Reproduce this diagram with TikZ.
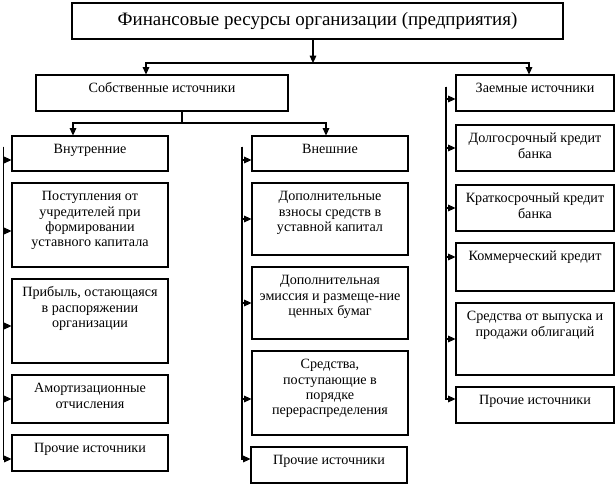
\documentclass[tikz,border=0pt]{standalone}
\usepackage{fontspec}
\setmainfont{Liberation Serif}
\usetikzlibrary{arrows.meta}

\begin{document}
\begin{tikzpicture}[x=0.75pt,y=0.75pt,yscale=-1,xscale=1,
    box/.style 2 args={draw, line width=0.8pt, inner sep=0pt,
      font=\fontsize{10.6}{11.5}\selectfont,
      execute at begin node={\begin{minipage}[c][#2][t]{#1}\centering\vspace*{5.3pt}\strut},
      execute at end node={\strut\end{minipage}}},
    headbox/.style={draw, line width=0.8pt, inner sep=0pt, font=\fontsize{14.2}{16}\selectfont},
    arr/.style={line width=0.8pt, -{Triangle[length=5.5pt,width=5pt]}},
    bus/.style={line width=0.8pt}]
        \useasboundingbox (0,0) rectangle (616,498);
        % Head
        \draw (317.5,21) node [headbox, minimum width=368.25pt, minimum height=27pt] (title) {Финансовые ресурсы организации (предприятия)};
        % Box
        \draw (162,93) node [box={189pt}{27pt}] (own) {Собственные источники};
        % Box
        \draw (535,93) node [box={118.5pt}{27pt}] (loan) {Заемные источники};
        % Box
        \draw (90,153.5) node [box={117pt}{26.25pt}] (L1) {Внутренние};
        % Box
        \draw (90,225) node [box={117pt}{63pt}] (L2) {Поступления от\\ учредителей при\\ формировании\\ уставного капитала};
        % Box
        \draw (90,321) node [box={117pt}{63pt}] (L3) {Прибыль, остающаяся\\ в распоряжении\\ организации};
        % Box
        \draw (90,399) node [box={117pt}{36pt}] (L4) {Амортизационные\\ отчисления};
        % Box
        \draw (90,453) node [box={117pt}{27pt}] (L5) {Прочие источники};
        % Box
        \draw (330,153.5) node [box={117pt}{26.25pt}] (M1) {Внешние};
        % Box
        \draw (330,219) node [box={117pt}{54pt}] (M2) {Дополнительные\\ взносы средств в\\ уставной капитал};
        % Box
        \draw (330,303) node [box={117pt}{54pt}] (M3) {Дополнительная\\ эмиссия и размеще-ние\\ ценных бумаг};
        % Box
        \draw (330,393) node [box={117pt}{63pt}] (M4) {Средства,\\ поступающие в\\ порядке\\ перераспределения};
        % Box
        \draw (329,465) node [box={117pt}{27pt}] (M5) {Прочие источники};
        % Box
        \draw (535,148) node [box={118.5pt}{34.5pt}] (R1) {Долгосрочный кредит\\ банка};
        % Box
        \draw (535,208) node [box={118.5pt}{34.5pt}] (R2) {Краткосрочный кредит\\ банка};
        % Box
        \draw (535,267) node [box={118.5pt}{36pt}] (R3) {Коммерческий кредит};
        % Box
        \draw (535,339) node [box={118.5pt}{54pt}] (R4) {Средства от выпуска и\\ продажи облигаций};
        % Box
        \draw (535,405) node [box={118.5pt}{27pt}] (R5) {Прочие источники};
        % Joints
        \coordinate (tjoin) at (313,63);
        \coordinate (ojoin) at (182,123);
        \coordinate (lbus) at (3.5,147);
        \coordinate (mbus) at (242,147);
        \coordinate (rbus) at (446,87);
        % Connection
        \draw [arr] (title.south -| tjoin) -- (tjoin);
        % Connection
        \draw [arr] (tjoin) -| ([xshift=-12pt]own.north);
        % Connection
        \draw [arr] (tjoin) -| ([xshift=-4.5pt]loan.north);
        % Connection
        \draw [bus] ([xshift=15pt]own.south) -- (ojoin);
        % Connection
        \draw [arr] (ojoin) -| ([xshift=-12.75pt]L1.north);
        % Connection
        \draw [arr] (ojoin) -| ([xshift=-3pt]M1.north);
        % Connection
        \draw [arr] (lbus) |- ([yshift=4.875pt]L1.west);
        \draw [arr] (lbus) |- ([yshift=4.5pt]L2.west);
        \draw [arr] (lbus) |- ([yshift=3.75pt]L3.west);
        \draw [arr] (lbus) |- (L4.west);
        \draw [arr] (lbus) |- ([yshift=4.5pt]L5.west);
        % Connection
        \draw [arr] (mbus) |- ([yshift=4.875pt]M1.west);
        \draw [arr] (mbus) |- (M2.west);
        \draw [arr] (mbus) |- (M3.west);
        \draw [arr] (mbus) |- ([yshift=4.5pt]M4.west);
        \draw [arr] (mbus) |- ([yshift=-4.5pt]M5.west);
        % Connection
        \draw [arr] (rbus) |- ([yshift=4.5pt]loan.west);
        \draw [arr] (rbus) |- (R1.west);
        \draw [arr] (rbus) |- (R2.west);
        \draw [arr] (rbus) |- ([yshift=-7.5pt]R3.west);
        \draw [arr] (rbus) |- (R4.west);
        \draw [arr] (rbus) |- ([yshift=-4.5pt]R5.west);
    \end{tikzpicture}
\end{document}
